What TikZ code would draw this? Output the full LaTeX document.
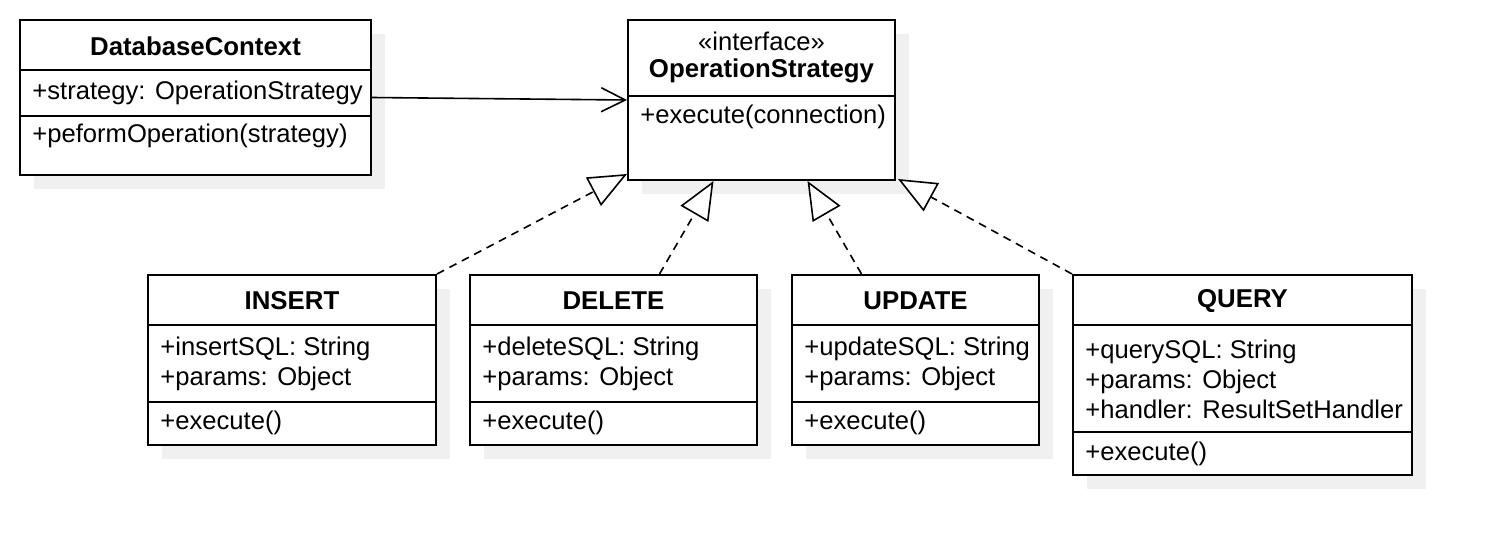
\documentclass[tikz,border=0pt]{standalone}
\usepackage{fontspec}
\setmainfont{Liberation Sans}
\usepackage{xcolor}
\usetikzlibrary{arrows.meta,shadows}
\definecolor{ink}{HTML}{000000}
\definecolor{shade}{HTML}{F0F0F0}

\begin{document}
\begin{tikzpicture}[
  x=0.5pt,y=-0.5pt,
  umlclass/.style={draw=ink,line width=1pt,fill=white,inner sep=0pt,
    drop shadow={shadow xshift=7pt,shadow yshift=-7pt,fill=shade,opacity=1}},
  title/.style={font=\fontsize{12.9}{15}\selectfont\bfseries,inner sep=0pt},
  member/.style={anchor=west,align=left,font=\fontsize{12.8}{15}\selectfont,inner sep=0pt},
  divider/.style={draw=ink,line width=1pt},
  assoc/.style={-{Straight Barb[length=12pt,width=12pt]},line width=0.8pt,draw=ink},
  realize/.style={-{Triangle[open,length=19pt,width=16pt,fill=white]},line width=0.8pt,draw=ink,dash pattern=on 4pt off 3pt}
]
\useasboundingbox (0,0) rectangle (1492,556);

% classes
\node[umlclass,minimum width=175.5pt,minimum height=77.5pt] (ctx) at (195.5,97.5) {};
\node[umlclass,minimum width=133.5pt,minimum height=80pt] (iface) at (761.5,100) {};
\node[umlclass,minimum width=144pt,minimum height=85pt] (insert) at (292,360) {};
\node[umlclass,minimum width=143.5pt,minimum height=85pt] (delete) at (613.5,360) {};
\node[umlclass,minimum width=123.5pt,minimum height=85pt] (update) at (915.5,360) {};
\node[umlclass,minimum width=169.5pt,minimum height=100pt] (query) at (1242.5,375) {};

% compartments
\draw[divider] (ctx.west |- 0,70) -- (ctx.east |- 0,70);
\draw[divider] (ctx.west |- 0,116) -- (ctx.east |- 0,116);
\draw[divider] (iface.west |- 0,96) -- (iface.east |- 0,96);
\foreach \cls in {insert,delete,update,query}{
  \draw[divider] (\cls.west |- 0,325) -- (\cls.east |- 0,325);
}
\foreach \cls in {insert,delete,update}{
  \draw[divider] (\cls.west |- 0,402) -- (\cls.east |- 0,402);
}
\draw[divider] (query.west |- 0,432) -- (query.east |- 0,432);

% DatabaseContext
\node[title] (ctx-name) at (195.5,46) {DatabaseContext};
\node[member] (ctx-attr) at (32,93) {+strategy: OperationStrategy};
\node[member] (ctx-op) at (32,136) {+peformOperation(strategy)};

% interface
\node[font=\fontsize{12.8}{15}\selectfont,inner sep=0pt] (iface-st) at (761.5,41) {«interface»};
\node[title] (iface-name) at (761.5,71) {OperationStrategy};
\node[member] (iface-op) at (640,117) {+execute(connection)};

% concrete strategies
\node[title] (insert-name) at (292,301) {INSERT};
\node[member] (insert-attr) at (160,364) {+insertSQL: String\\+params: Object};
\node[member] (insert-op) at (160,423) {+execute()};

\node[title] (delete-name) at (613.5,301) {DELETE};
\node[member] (delete-attr) at (482,364) {+deleteSQL: String\\+params: Object};
\node[member] (delete-op) at (482,423) {+execute()};

\node[title] (update-name) at (915.5,301) {UPDATE};
\node[member] (update-attr) at (804,364) {+updateSQL: String\\+params: Object};
\node[member] (update-op) at (804,423) {+execute()};

\node[title] (query-name) at (1242.5,301) {QUERY};
\node[member] (query-attr) at (1085,379) {+querySQL: String\\+params: Object\\+handler: ResultSetHandler};
\node[member] (query-op) at (1085,454) {+execute()};

% connectors
\draw[assoc] (ctx.east) -- (iface.west);
\draw[realize] (insert.north east) -- ([yshift=3.5pt]iface.south west);
\draw[realize] ([xshift=23pt]delete.north) -- ([xshift=-24pt]iface.south);
\draw[realize] ([xshift=-27pt]update.north) -- ([xshift=23pt]iface.south);
\draw[realize] (query.north west) -- ([xshift=1pt,yshift=1pt]iface.south east);
\end{tikzpicture}
\end{document}
